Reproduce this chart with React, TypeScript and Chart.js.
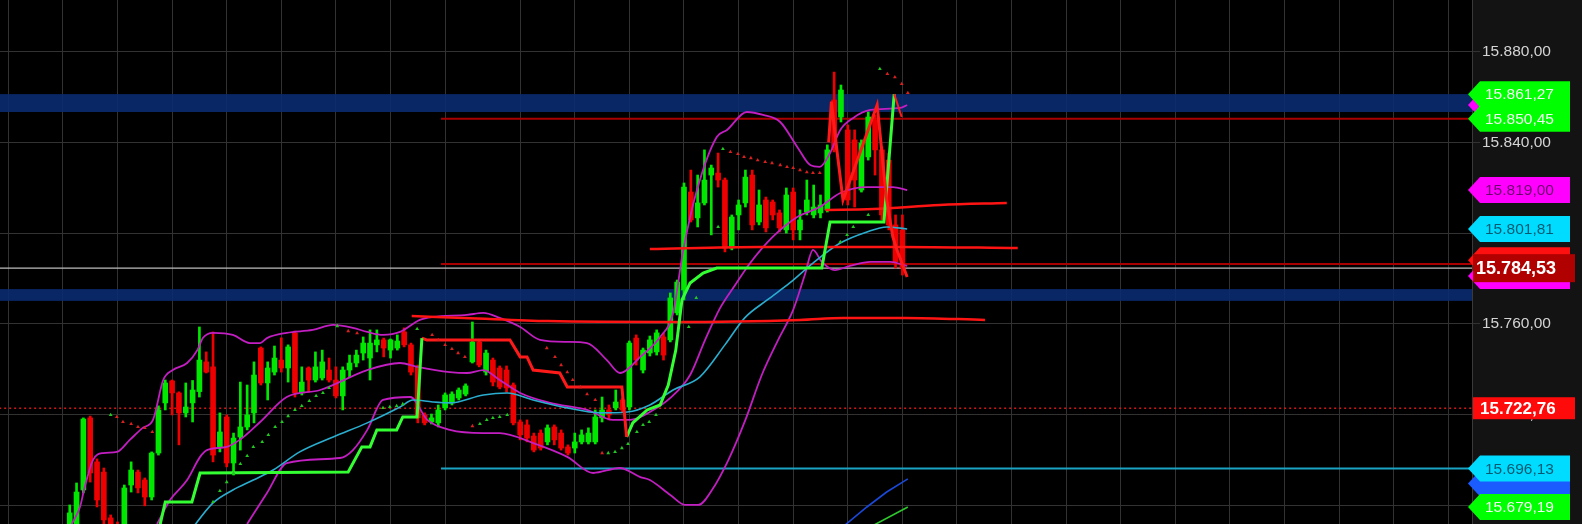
import React, { useEffect, useRef } from 'react';
import { Chart, registerables } from 'chart.js';

Chart.register(...registerables);

// ---------- DATA ----------
const CANDLE_START = 9; // index of first candle

const openP = [
  15669.1, 15669.1, 15686.7, 15718.5, 15699.1, 15694.6, 15674.4, 15670.0, 15669.1, 15688.9,
  15694.6, 15691.1, 15683.6, 15703.0, 15725.1, 15734.8, 15729.5, 15720.7, 15725.1, 15730.1,
  15743.2, 15741.0, 15705.7, 15718.9, 15698.6, 15710.1, 15714.5, 15720.7, 15749.3, 15733.9,
  15738.7, 15744.0, 15740.5, 15756.0, 15729.5, 15740.5, 15735.2, 15736.1, 15739.6, 15735.2,
  15728.2, 15739.6, 15742.7, 15747.1, 15744.9, 15750.7, 15752.9, 15748.4, 15749.3, 15756.4,
  15750.7, 15741.0, 15719.8, 15716.7, 15716.3, 15722.9, 15725.1, 15727.3, 15729.0, 15743.2,
  15752.0, 15738.7, 15744.0, 15740.5, 15739.6, 15733.0, 15716.7, 15715.4, 15710.5, 15711.8,
  15707.9, 15714.5, 15711.8, 15705.7, 15705.2, 15707.9, 15707.9, 15707.9, 15718.5, 15722.0,
  15722.9, 15726.4, 15723.3, 15753.7, 15739.6, 15747.1, 15747.6, 15754.2, 15752.9, 15764.8,
  15774.9, 15818.1, 15806.7, 15813.3, 15825.6, 15826.5, 15823.4, 15793.4, 15808.0, 15813.3,
  15825.6, 15804.9, 15814.6, 15813.7, 15808.9, 15801.4, 15818.1, 15801.4, 15809.3, 15808.0,
  15808.9, 15810.2, 15858.7, 15851.2, 15845.5, 15841.1, 15819.0, 15833.6, 15849.9, 15836.7,
  15832.2, 15803.6, 15801.4,
];
const highP = [
  15680.1, 15689.8, 15718.5, 15719.3, 15700.4, 15696.4, 15675.7, 15672.6, 15688.9, 15699.1,
  15695.5, 15692.0, 15703.5, 15723.8, 15735.2, 15735.2, 15730.0, 15733.9, 15735.0, 15758.6,
  15747.6, 15756.4, 15720.7, 15719.8, 15711.8, 15734.3, 15733.0, 15743.2, 15749.8, 15743.2,
  15750.2, 15753.8, 15750.7, 15756.8, 15741.0, 15741.0, 15747.6, 15748.4, 15744.9, 15741.0,
  15741.0, 15746.2, 15748.4, 15754.2, 15757.3, 15757.3, 15753.7, 15753.3, 15755.1, 15758.2,
  15751.5, 15741.8, 15720.7, 15720.2, 15724.2, 15729.5, 15730.0, 15731.7, 15733.5, 15760.8,
  15752.9, 15748.4, 15744.9, 15741.4, 15741.4, 15733.9, 15717.6, 15717.6, 15711.8, 15713.2,
  15715.4, 15715.4, 15713.2, 15706.6, 15711.8, 15713.2, 15714.1, 15722.0, 15727.7, 15724.2,
  15730.8, 15727.3, 15752.4, 15755.1, 15749.3, 15754.6, 15757.3, 15755.9, 15773.6, 15779.3,
  15822.1, 15827.8, 15825.6, 15836.7, 15830.0, 15835.3, 15824.3, 15808.0, 15814.6, 15827.8,
  15827.8, 15819.0, 15815.9, 15814.6, 15810.2, 15819.9, 15819.9, 15810.2, 15823.4, 15821.2,
  15816.8, 15838.9, 15871.0, 15865.3, 15847.7, 15845.5, 15841.1, 15853.4, 15852.1, 15838.0,
  15835.3, 15808.0, 15808.0,
];
const lowP = [
  15666.9, 15666.9, 15685.4, 15690.2, 15679.2, 15669.1, 15666.9, 15664.7, 15666.9, 15685.8,
  15685.4, 15679.7, 15682.3, 15702.1, 15722.0, 15719.8, 15706.6, 15718.9, 15716.7, 15727.7,
  15738.3, 15699.1, 15703.5, 15696.9, 15693.3, 15704.3, 15713.2, 15716.3, 15733.0, 15726.4,
  15737.4, 15738.7, 15734.3, 15727.7, 15728.6, 15729.9, 15734.3, 15735.2, 15734.3, 15727.3,
  15722.0, 15736.5, 15741.0, 15744.0, 15735.2, 15747.6, 15745.4, 15744.9, 15748.4, 15749.8,
  15737.4, 15716.3, 15715.4, 15715.8, 15714.5, 15722.0, 15724.2, 15726.4, 15728.2, 15742.7,
  15741.0, 15737.4, 15732.6, 15731.3, 15729.9, 15715.4, 15708.8, 15707.9, 15703.5, 15704.3,
  15706.6, 15706.6, 15704.3, 15702.1, 15703.0, 15707.0, 15707.0, 15707.0, 15716.7, 15717.6,
  15722.0, 15721.1, 15722.0, 15741.8, 15738.3, 15745.8, 15746.2, 15744.0, 15752.0, 15763.9,
  15770.5, 15804.9, 15802.7, 15812.4, 15799.2, 15820.3, 15791.7, 15792.6, 15801.4, 15811.5,
  15801.4, 15803.6, 15800.5, 15805.8, 15800.5, 15800.0, 15797.0, 15797.0, 15808.0, 15806.7,
  15806.7, 15809.3, 15835.8, 15849.0, 15812.4, 15811.5, 15818.1, 15832.2, 15825.6, 15805.8,
  15801.4, 15784.6, 15781.5,
];
const closeP = [
  15676.6, 15685.8, 15718.0, 15694.2, 15682.3, 15673.5, 15669.1, 15666.9, 15687.6, 15695.5,
  15687.6, 15683.6, 15703.0, 15722.0, 15733.9, 15729.5, 15720.7, 15723.3, 15730.8, 15744.0,
  15738.7, 15702.1, 15712.3, 15698.6, 15709.6, 15714.5, 15719.8, 15737.4, 15733.9, 15740.5,
  15744.9, 15740.5, 15749.8, 15729.5, 15734.3, 15735.2, 15741.0, 15743.2, 15735.2, 15728.2,
  15739.6, 15742.7, 15746.2, 15751.5, 15751.5, 15752.9, 15749.3, 15752.9, 15752.4, 15750.7,
  15738.7, 15718.5, 15716.3, 15718.5, 15722.0, 15728.6, 15729.0, 15730.8, 15732.6, 15752.0,
  15741.8, 15747.1, 15734.3, 15732.1, 15731.7, 15716.3, 15711.0, 15709.6, 15704.3, 15705.2,
  15714.1, 15708.8, 15705.2, 15703.0, 15707.9, 15711.0, 15711.8, 15718.9, 15722.0, 15719.8,
  15725.5, 15722.0, 15751.5, 15744.0, 15748.4, 15752.9, 15756.0, 15746.2, 15771.4, 15778.4,
  15820.3, 15805.8, 15813.3, 15823.4, 15828.7, 15823.4, 15793.4, 15807.1, 15812.4, 15824.7,
  15803.6, 15812.4, 15802.3, 15808.0, 15802.3, 15816.8, 15801.4, 15805.8, 15814.6, 15811.5,
  15812.4, 15836.7, 15836.7, 15863.1, 15814.6, 15823.4, 15839.7, 15851.2, 15836.7, 15808.0,
  15803.6, 15787.3, 15784.6,
];

// indicator lines: [candle index, price]
const upperBand: [number, number][] = [
  [9.3, 15671.7], [10.5, 15679.2], [11.2, 15688.0], [12.4, 15699.9], [13.9, 15703.0], [15.9, 15703.5],
  [17.8, 15708.8], [19.7, 15714.1], [21.2, 15717.6], [22.7, 15735.2], [24.1, 15739.6], [26.2, 15742.7],
  [27.7, 15748.4], [28.5, 15753.7], [30.0, 15756.0], [32.9, 15755.1], [35.4, 15751.5], [36.9, 15751.5],
  [37.9, 15753.7], [40.8, 15756.0], [44.6, 15757.3], [47.6, 15759.5], [50.5, 15758.2], [52.6, 15756.4],
  [54.9, 15755.1], [57.4, 15756.4], [60.3, 15761.7], [62.2, 15763.0], [67.2, 15763.9], [69.6, 15764.8],
  [72.0, 15762.6], [75.0, 15758.6], [77.9, 15752.9], [81.9, 15752.0], [84.8, 15751.5], [87.7, 15744.0],
  [89.6, 15738.3], [92.6, 15745.4], [95.5, 15754.2], [97.4, 15764.8], [98.9, 15792.6], [100.9, 15819.0],
  [103.8, 15842.4], [105.3, 15845.5], [108.2, 15853.4], [110.6, 15852.1], [113.1, 15849.0], [115.6, 15838.0],
  [117.5, 15830.0], [118.9, 15829.2], [120.4, 15835.3], [121.9, 15845.5], [123.8, 15850.8], [126.3, 15854.3],
  [130.7, 15855.2], [131.7, 15856.5],
];
const middleBand: [number, number][] = [
  [21.8, 15671.7], [23.7, 15682.3], [26.2, 15691.1], [28.1, 15701.3], [29.1, 15704.3], [32.0, 15705.7],
  [33.9, 15708.8], [36.9, 15716.7], [40.8, 15727.7], [45.7, 15730.8], [52.6, 15739.6], [57.4, 15742.7],
  [59.9, 15741.0], [64.7, 15738.7], [67.2, 15738.3], [69.6, 15739.6], [72.0, 15735.2], [75.0, 15729.5],
  [79.4, 15725.1], [84.8, 15722.0], [88.6, 15717.6], [91.1, 15717.6], [94.0, 15721.1], [97.0, 15727.3],
  [99.9, 15737.4], [102.1, 15752.9], [104.3, 15767.0], [106.5, 15777.1], [108.7, 15786.8], [112.0, 15798.3],
  [115.6, 15807.1], [118.9, 15811.5], [121.9, 15817.7], [125.8, 15820.3], [129.6, 15820.3], [131.7, 15819.0],
];
const lowerBand: [number, number][] = [
  [35.0, 15671.7], [37.9, 15685.4], [40.8, 15698.6], [48.6, 15700.8], [50.5, 15704.3], [52.6, 15713.2],
  [54.9, 15726.4], [58.9, 15727.7], [61.4, 15717.6], [64.7, 15713.2], [69.6, 15711.8], [72.0, 15711.8],
  [76.9, 15707.4], [81.9, 15701.3], [85.7, 15694.2], [89.6, 15696.4], [92.6, 15692.4], [94.0, 15691.1],
  [97.0, 15684.5], [99.2, 15680.1], [101.1, 15680.1], [103.1, 15686.7], [105.5, 15699.9], [108.0, 15717.6],
  [110.4, 15737.4], [112.8, 15752.9], [115.0, 15766.1], [116.7, 15781.5], [117.9, 15792.6], [119.2, 15787.3],
  [121.1, 15783.7], [123.3, 15785.5], [126.3, 15787.3], [129.2, 15787.3], [131.7, 15785.5],
];
const slowMA: [number, number][] = [
  [26.5, 15668.0], [30.0, 15681.0], [32.9, 15686.7], [35.9, 15691.1], [38.8, 15695.5], [42.7, 15703.5],
  [47.6, 15710.1], [52.6, 15716.3], [57.4, 15723.3], [59.3, 15726.4], [62.2, 15725.5], [64.7, 15725.1],
  [69.6, 15728.6], [73.1, 15729.5], [76.9, 15726.4], [81.9, 15722.9], [86.7, 15720.7], [90.7, 15721.1],
  [94.0, 15724.2], [97.4, 15730.8], [101.3, 15736.5], [105.0, 15750.7], [107.9, 15762.6], [111.2, 15770.5],
  [114.5, 15778.0], [117.9, 15786.8], [121.9, 15795.6], [125.8, 15800.5], [128.7, 15802.7], [131.7, 15801.81],
];
const trendUpA: [number, number][] = [
  [21.9, 15666.9], [23.0, 15681.4], [26.9, 15681.4], [28.1, 15694.2], [49.8, 15694.6], [51.8, 15705.7],
  [53.0, 15705.7], [54.0, 15713.2], [56.9, 15713.2], [57.8, 15718.9], [59.9, 15718.9], [60.6, 15753.7],
];
const trendDown: [number, number][] = [
  [60.6, 15753.7], [61.3, 15752.9], [73.5, 15752.9], [75.0, 15745.4], [76.0, 15745.4], [76.9, 15739.6],
  [80.8, 15738.3], [81.9, 15732.1], [89.9, 15732.1], [90.6, 15710.1],
];
const trendUpB: [number, number][] = [
  [90.6, 15710.1], [91.5, 15716.3], [93.6, 15722.0], [95.5, 15724.2], [96.7, 15733.0], [97.8, 15748.4],
  [98.7, 15770.5], [99.9, 15778.0], [101.8, 15782.4], [103.8, 15784.6], [119.2, 15784.6], [120.4, 15804.9],
  [128.3, 15804.9], [129.8, 15861.27],
];
const zigzag: [number, number][] = [
  [120.2, 15840.0], [120.6, 15858.0], [121.4, 15836.7], [122.3, 15814.6], [127.3, 15856.5],
  [128.7, 15814.6], [129.6, 15798.3], [130.2, 15792.6], [131.7, 15780.6],
];
const spikeBack: [number, number][] = [[129.8, 15861.27], [130.9, 15851.2]];
const profileA: [number, number][] = [[94.0, 15793.0], [110.1, 15793.9], [130.7, 15793.9], [147.9, 15793.4]];
const profileB: [number, number][] = [[119.7, 15810.2], [126.7, 15810.6], [136.5, 15812.4], [146.3, 15813.3]];
const profileC: [number, number][] = [
  [59.1, 15763.4], [66.8, 15762.6], [79.1, 15761.2], [97.7, 15760.8], [116.0, 15761.7], [122.3, 15762.6],
  [131.5, 15762.6], [143.1, 15761.7],
];
const blueTrend: [number, number][] = [[121.5, 15668.5], [125.8, 15679.2], [128.7, 15685.8], [131.8, 15691.6]];
const greenTrend: [number, number][] = [[125.5, 15669.1], [131.8, 15679.19]];

const sarUp: [number, number][] = [
  [15.0, 15719.8], [30.0, 15681.4], [31.0, 15686.3], [32.0, 15690.2], [33.0, 15694.2], [34.0, 15698.2],
  [35.0, 15701.7], [35.9, 15705.7], [37.2, 15707.9], [38.1, 15711.0], [39.1, 15714.5], [40.1, 15716.7],
  [41.0, 15719.3], [42.0, 15722.0], [43.0, 15723.8], [44.1, 15726.0], [45.1, 15728.2], [46.1, 15729.5],
  [47.0, 15731.7], [48.2, 15759.0], [54.9, 15722.9], [55.9, 15723.3], [56.9, 15723.8], [57.8, 15724.6],
  [59.9, 15757.7], [69.1, 15715.8], [70.1, 15717.6], [71.0, 15718.5], [72.0, 15718.9], [73.1, 15719.8],
  [87.9, 15703.0], [88.9, 15703.5], [89.9, 15705.2], [90.8, 15707.0], [92.1, 15712.3], [93.0, 15715.4],
  [93.9, 15716.7], [94.9, 15719.8], [99.7, 15758.6], [100.8, 15771.4], [104.0, 15802.7], [104.7, 15837.1],
  [121.9, 15796.1], [122.9, 15799.2], [123.8, 15802.7], [126.0, 15808.0], [127.7, 15872.4],
];
const sarDown: [number, number][] = [
  [15.9, 15718.9], [16.8, 15716.7], [18.0, 15715.8], [19.0, 15714.5], [20.0, 15714.1], [21.1, 15712.3],
  [49.8, 15756.8], [51.1, 15755.9], [62.1, 15755.1], [63.0, 15752.9], [64.0, 15750.7], [65.0, 15748.9],
  [65.9, 15747.1], [66.9, 15745.4], [68.0, 15714.9], [78.9, 15749.3], [80.1, 15745.4], [81.0, 15741.8],
  [81.9, 15738.7], [82.7, 15735.2], [83.8, 15732.1], [84.8, 15729.0], [86.0, 15726.4], [87.0, 15703.0],
  [105.8, 15835.8], [106.9, 15834.9], [107.8, 15833.6], [108.8, 15833.1], [109.8, 15832.2], [110.9, 15831.4],
  [111.9, 15830.9], [113.1, 15830.0], [114.1, 15829.2], [115.0, 15828.7], [116.0, 15827.8], [117.0, 15826.9],
  [117.9, 15826.5], [118.9, 15826.5], [128.8, 15870.2], [129.9, 15868.8], [130.9, 15865.8], [131.8, 15861.8],
];

const lastPrice = 15784.53;
const alertLevel = 15722.76;
const resistLevel = 15850.45;
const supportLevel = 15786.4;
const cyanLevel = 15696.13;
const levelStartIdx = 63.4;
const zones: [number, number][] = [[15853.4, 15861.3], [15770.1, 15775.3]];

const yTicks = [15680, 15720, 15760, 15800, 15840, 15880];
const xGridIdx = [0, 8, 16, 24, 32, 40, 48, 56, 64, 75, 83, 91, 99, 107, 115, 123, 131, 139, 147, 155, 163, 171, 179, 187, 195, 203, 211];

// price tags on the axis (drawn back to front)
const tagPrices = [15856.5, 15861.27, 15850.45, 15819.0, 15801.81, 15788.0, 15781.1, 15784.53, 15689.6, 15696.13, 15679.19, 15722.76];
const tagFills = ['#ff00ff', '#00ff00', '#00ff00', '#ff00ff', '#00dcff', '#ff1010', '#ff00ff', '#b00000', '#1a5cff', '#00dcff', '#00ff00', '#ff0a0a'];
const tagInk = ['', '#f4fff4', '#f4fff4', '#6c006c', '#005b72', '', '', '#ffffff', '', '#005b72', '#f4fff4', '#ffffff'];
const tagKinds = ['arrow', 'arrow', 'arrow', 'arrow', 'arrow', 'arrow', 'arrow', 'box', 'arrow', 'arrow', 'arrow', 'box'];

// ---------- helpers ----------
const fmt = (v: number) => {
  const [i, d] = v.toFixed(2).split('.');
  return i.replace(/\B(?=(\d{3})+(?!\d))/g, '.') + ',' + d;
};
const pts = (a: [number, number][]) => a.map(([x, y]) => ({ x, y }));
const line = (a: [number, number][], color: string, width: number, order: number, extra: any = {}) => ({
  type: 'line',
  data: pts(a),
  borderColor: color,
  borderWidth: width,
  pointRadius: 0,
  tension: 0,
  fill: false,
  order,
  ...extra,
});
const hline = (v: number, from: number, color: string, width: number, order: number, extra: any = {}) =>
  line([[from, v], [240, v]], color, width, order, extra);

const UP = '#00e800';
const DOWN = '#ee0000';
const GRID = '#323232';

const overlayPlugin = {
  id: 'overlay',
  beforeDraw(chart: any) {
    const { ctx, chartArea, width, height } = chart;
    ctx.save();
    ctx.fillStyle = '#000000';
    ctx.fillRect(0, 0, width, height);
    ctx.fillStyle = '#131313';
    ctx.fillRect(chartArea.right, 0, width - chartArea.right, height);
    ctx.restore();
  },
  beforeDatasetsDraw(chart: any) {
    const { ctx, chartArea } = chart;
    const y = chart.scales.y;
    ctx.save();
    ctx.fillStyle = 'rgba(10,42,112,0.9)';
    zones.forEach(([lo, hi]) => {
      const t = y.getPixelForValue(hi);
      const b = y.getPixelForValue(lo);
      ctx.fillRect(chartArea.left, t, chartArea.right - chartArea.left, b - t);
    });
    ctx.restore();
  },
  afterDraw(chart: any) {
    const { ctx, chartArea } = chart;
    const y = chart.scales.y;
    const r = chartArea.right;
    ctx.save();
    tagPrices.forEach((p, k) => {
      const cy = y.getPixelForValue(p);
      ctx.fillStyle = tagFills[k];
      ctx.textBaseline = 'middle';
      ctx.textAlign = 'left';
      if (tagKinds[k] === 'arrow') {
        const h = 26;
        ctx.beginPath();
        ctx.moveTo(r - 4, cy);
        ctx.lineTo(r + 8, cy - h / 2);
        ctx.lineTo(r + 98, cy - h / 2);
        ctx.lineTo(r + 98, cy + h / 2);
        ctx.lineTo(r + 8, cy + h / 2);
        ctx.closePath();
        ctx.fill();
        if (tagInk[k]) {
          ctx.fillStyle = tagInk[k];
          ctx.font = "15.5px 'Liberation Sans', Arial, sans-serif";
          ctx.fillText(fmt(p), r + 13, cy + 1);
        }
      } else {
        const last = k === tagPrices.length - 1;
        const h = last ? 22 : 28;
        ctx.fillRect(r + 1, cy - h / 2, 102, h);
        ctx.fillStyle = tagInk[k];
        ctx.font = (last ? 'bold 17px' : 'bold 18px') + " 'Liberation Sans', Arial, sans-serif";
        ctx.fillText(fmt(p), r + (last ? 8 : 4), cy + 1);
      }
    });
    ctx.restore();
  },
};

export default function App() {
  const ref = useRef<HTMLCanvasElement | null>(null);

  useEffect(() => {
    document.body.style.margin = '0';
    document.body.style.background = '#000';
    const canvas = ref.current;
    if (!canvas) return;

    const xs = openP.map((_, k) => CANDLE_START + k);
    const isUp = openP.map((o, k) => closeP[k] >= o);
    const colors = isUp.map((u) => (u ? UP : DOWN));

    const datasets: any[] = [
      hline(lastPrice, -5, '#bdbdbd', 1.2, 30),
      hline(alertLevel, -5, '#d01818', 1.5, 30, { borderDash: [2, 3] }),
      hline(resistLevel, levelStartIdx, '#a80000', 2, 30),
      hline(supportLevel, levelStartIdx, '#a80000', 2, 30),
      hline(cyanLevel, levelStartIdx, '#1aa4c4', 2, 30),
      {
        type: 'bar',
        data: xs.map((x, k) => ({ x, y: [lowP[k], highP[k]] })),
        backgroundColor: colors,
        barThickness: 2,
        grouped: false,
        borderWidth: 0,
        order: 25,
      },
      {
        type: 'bar',
        data: xs.map((x, k) => ({ x, y: [Math.min(openP[k], closeP[k]), Math.max(openP[k], closeP[k])] })),
        backgroundColor: colors,
        barThickness: 5,
        minBarLength: 1,
        grouped: false,
        borderWidth: 0,
        order: 24,
      },
      line(upperBand, '#c21ec2', 1.8, 15, { cubicInterpolationMode: 'monotone' }),
      line(middleBand, '#c21ec2', 1.8, 15, { cubicInterpolationMode: 'monotone' }),
      line(lowerBand, '#c21ec2', 1.8, 15, { cubicInterpolationMode: 'monotone' }),
      line(slowMA, '#2aaed0', 1.6, 14, { cubicInterpolationMode: 'monotone' }),
      line(blueTrend, '#1a48d8', 1.6, 14),
      line(greenTrend, '#2ec82e', 1.6, 14),
      line(profileC, '#ff1414', 2.5, 10, { cubicInterpolationMode: 'monotone' }),
      line(profileA, '#ff1414', 2.5, 10, { cubicInterpolationMode: 'monotone' }),
      line(profileB, '#ff1414', 2.5, 10, { cubicInterpolationMode: 'monotone' }),
      line(trendUpA, '#33ff33', 3, 8),
      line(trendDown, '#ff1a1a', 3, 8),
      line(trendUpB, '#33ff33', 3, 8),
      line(zigzag, '#ff1a1a', 3, 7),
      line(spikeBack, '#ff1a1a', 2, 7),
      {
        type: 'line',
        data: pts(sarUp),
        showLine: false,
        pointStyle: 'triangle',
        pointRadius: 2.2,
        pointBorderWidth: 0,
        pointBackgroundColor: '#22c822',
        order: 5,
      },
      {
        type: 'line',
        data: pts(sarDown),
        showLine: false,
        pointStyle: 'triangle',
        pointRadius: 2.2,
        pointBorderWidth: 0,
        pointBackgroundColor: '#d82020',
        order: 5,
      },
    ];

    const chart = new Chart(canvas, {
      type: 'line',
      data: { datasets },
      options: {
        responsive: false,
        animation: false,
        devicePixelRatio: 1,
        events: [],
        layout: { padding: 0, autoPadding: false },
        plugins: { legend: { display: false }, tooltip: { enabled: false } },
        scales: {
          x: {
            type: 'linear',
            min: -1.216,
            max: 214.46,
            offset: false,
            grid: { color: GRID, drawTicks: false, offset: false },
            border: { display: false },
            ticks: { display: false },
            afterBuildTicks: (s: any) => {
              s.ticks = xGridIdx.map((v) => ({ value: v }));
            },
            afterFit: (s: any) => {
              s.height = 0;
              s.paddingLeft = 0;
              s.paddingRight = 0;
              s.paddingTop = 0;
              s.paddingBottom = 0;
            },
          },
          y: {
            type: 'linear',
            position: 'right',
            min: 15671.7,
            max: 15902.8,
            grid: { color: GRID, tickLength: 8, drawTicks: true },
            border: { color: '#3a3a3a' },
            ticks: {
              color: '#d4d4d4',
              padding: 2,
              font: { family: "'Liberation Sans', Arial, sans-serif", size: 15.5 },
              callback: (v: any) => fmt(Number(v)),
            },
            afterBuildTicks: (s: any) => {
              s.ticks = yTicks.map((v) => ({ value: v }));
            },
            afterFit: (s: any) => {
              s.width = 110;
              s.paddingTop = 0;
              s.paddingBottom = 0;
            },
          },
        },
      } as any,
      plugins: [overlayPlugin],
    } as any);

    return () => chart.destroy();
  }, []);

  return (
    <div style={{ position: 'fixed', left: 0, top: 0, width: 1582, height: 524, background: '#000' }}>
      <canvas ref={ref} width={1582} height={524} style={{ display: 'block', width: 1582, height: 524 }} />
    </div>
  );
}
